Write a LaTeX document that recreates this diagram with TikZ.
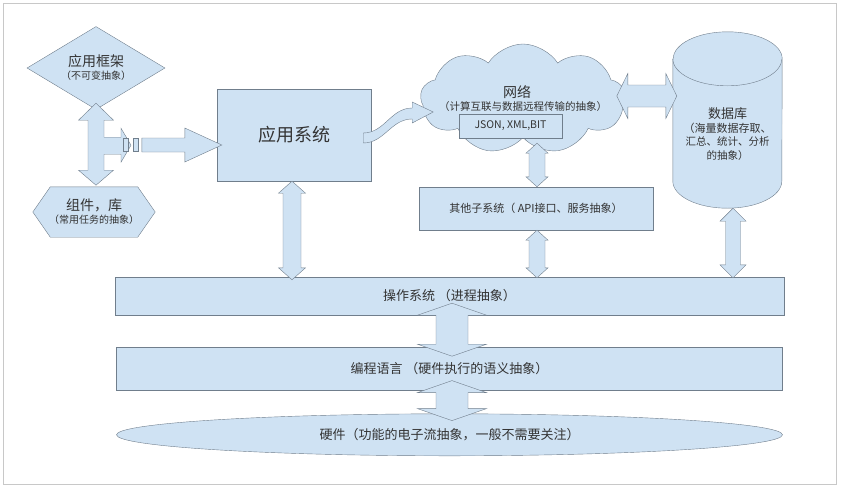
\documentclass[tikz,border=0pt]{standalone}
\usepackage{fontspec}
\setmainfont{Noto Sans CJK SC}
\usepackage{tikz}
\usetikzlibrary{positioning,calc,shapes.geometric,shapes.symbols}

\definecolor{boxblue}{RGB}{207,226,243}
\definecolor{edgegray}{RGB}{112,126,140}
\definecolor{textgray}{RGB}{51,51,51}
\definecolor{framegray}{RGB}{200,200,200}

\begin{document}
\begin{tikzpicture}[x=1pt, y=-1pt,
        every node/.style={text=textgray, inner sep=0pt},
        bluebox/.style={rectangle, draw=edgegray, fill=boxblue, thin},
        fatarrow/.style={draw=edgegray, fill=boxblue, thin},
        dblarrow/.style n args={3}{fatarrow, to path={
            (\tikztostart)
            -- ($(\tikztostart)!#1!(\tikztotarget)!#2!90:(\tikztotarget)$)
            -- ($(\tikztostart)!#1!(\tikztotarget)!#3!90:(\tikztotarget)$)
            -- ($(\tikztotarget)!#1!(\tikztostart)!#3!-90:(\tikztostart)$)
            -- ($(\tikztotarget)!#1!(\tikztostart)!#2!-90:(\tikztostart)$)
            -- (\tikztotarget)
            -- ($(\tikztotarget)!#1!(\tikztostart)!#2!90:(\tikztostart)$)
            -- ($(\tikztotarget)!#1!(\tikztostart)!#3!90:(\tikztostart)$)
            -- ($(\tikztostart)!#1!(\tikztotarget)!#3!-90:(\tikztotarget)$)
            -- ($(\tikztostart)!#1!(\tikztotarget)!#2!-90:(\tikztotarget)$)
            -- cycle}},
        bigfont/.style={font=\fontsize{18}{21}\selectfont},
        titlefont/.style={font=\fontsize{14}{17}\selectfont},
        subfont/.style={font=\fontsize{10.5}{13.5}\selectfont},
        layerfont/.style={font=\fontsize{13}{15}\selectfont}]

        \useasboundingbox (0,0) rectangle (842,488);
        \draw[framegray] (3,3) rectangle (836,484);

        % left side: framework and libraries
        \node[diamond, draw=edgegray, fill=boxblue, thin, shape aspect=1.66,
              minimum width=138pt, minimum height=83pt, align=center] (fw) at (96,68)
              {\fontsize{14}{17}\selectfont 应用框架\\[1pt]\fontsize{10}{12}\selectfont （不可变抽象）};
        \node[minimum width=122pt, minimum height=50pt] (lib) at (94,212) {};
        \draw[fatarrow] (lib.west) -- ([xshift=17.5pt]lib.north west) -- ([xshift=-17.5pt]lib.north east)
              -- (lib.east) -- ([xshift=-17.5pt]lib.south east) -- ([xshift=17.5pt]lib.south west) -- cycle;
        \node[align=center] (libtxt) at (lib)
              {\fontsize{14}{17}\selectfont 组件，库\\[1pt]\fontsize{10}{12}\selectfont （常用任务的抽象）};

        % application, network, database
        \node[bluebox, bigfont, minimum width=154pt, minimum height=92pt] (app) at (294,135) {应用系统};
        \node[cloud, draw=edgegray, fill=boxblue, thin, cloud puffs=9, cloud puff arc=115, aspect=2,
              minimum width=205pt, minimum height=110pt] (net) at (523,99) {};
        \node[titlefont] (nettitle) at (517,92) {网络};
        \node[subfont] (netsub) at (523,107) {（计算互联与数据远程传输的抽象）};
        \node[bluebox, subfont, minimum width=103pt, minimum height=24pt] (json) at (510.5,126) {JSON, XML,BIT};

        \node[minimum width=109pt, minimum height=176pt] (db) at (727.5,120) {};
        \draw[fatarrow] ([yshift=-27pt]db.north west) -- ([yshift=27pt]db.south west)
              arc[start angle=180, end angle=360, x radius=54.5pt, y radius=27pt]
              -- ([yshift=-27pt]db.north east)
              arc[start angle=0, end angle=180, x radius=54.5pt, y radius=27pt] -- cycle;
        \draw[edgegray, thin] ([yshift=-27pt]db.north west)
              arc[start angle=180, end angle=360, x radius=54.5pt, y radius=27pt];
        \node[align=center, subfont] (dbtxt) at ([yshift=-14pt]db.center)
              {\fontsize{13}{16}\selectfont 数据库\\\fontsize{11}{13.5}\selectfont （海量数据存取、\\汇总、统计、分析\\的抽象）};

        \node[bluebox, font=\fontsize{11}{13}\selectfont, minimum width=234pt, minimum height=43pt] (other) at (536,208.5)
              {其他子系统（ API接口、服务抽象）};

        % layers
        \node[bluebox, layerfont, minimum width=669pt, minimum height=38pt] (os) at (449.5,296) {操作系统 （进程抽象）};
        \node[bluebox, layerfont, minimum width=666pt, minimum height=43pt, below=32pt of os] (lang) {编程语言 （硬件执行的语义抽象）};
        \node[ellipse, draw=edgegray, fill=boxblue, thin, layerfont, minimum width=666pt, minimum height=42pt,
              below=23pt of lang] (hw) {硬件（功能的电子流抽象，一般不需要关注）};

        % arrows
        \draw[fatarrow] ([yshift=6.5pt]fw.south) -- ++(17.5,17) -- ++(-9.5,0) -- ++(0,17) -- ++(17,0)
              -- ++(0,-9) -- ++(10,17) -- ++(-10,17) -- ++(0,-8) -- ++(-17,0) -- ++(0,16) -- ++(9.5,0)
              -- ++(-17.5,15) -- ++(-17.5,-15) -- ++(9.5,0) -- ++(0,-50) -- ++(-9.5,0) -- cycle;
        \draw[fatarrow] ([shift={(-94,3)}]app.west) rectangle ++(5,13);
        \draw[fatarrow] ([shift={(-84,3)}]app.west) rectangle ++(5,13);
        \draw[fatarrow] ([shift={(5,10)}]app.west) -- ++(-37,-17) -- ++(0,10) -- ++(-43,0)
              -- ++(0,14) -- ++(43,0) -- ++(0,10) -- cycle;

        \draw[fatarrow] ([shift={(-8,8)}]app.east) -- ++(0,-10) to[out=0,in=180] ++(49,-25) -- ++(0,-6)
              -- ++(21,10) -- ++(-21,11) -- ++(0,-4) to[out=180,in=0] ++(-49,24) -- cycle;

        \draw[dblarrow={11pt}{22.5pt}{11pt}] ($(db.west |- nettitle)+(-56,4)$) to ($(db.west |- nettitle)+(4,4)$);
        \draw[dblarrow={10pt}{11pt}{8pt}] ($(other.north |- json.south)+(1,5)$) to ($(other.north)+(1,0)$);
        \draw[dblarrow={10pt}{11pt}{8pt}] ($(other.south)+(1,0)$) to ($(other.south |- os.north)+(1,1)$);
        \draw[dblarrow={12pt}{13.5pt}{9pt}] ($(app.south)+(-2,0)$) to ($(app.south |- os.north)+(-2,3)$);
        \draw[dblarrow={13pt}{13pt}{7.5pt}] ($(db.south)+(5.5,0)$) to ($(db.south |- os.north)+(5.5,1)$);
        \draw[dblarrow={12pt}{34.5pt}{16pt}] ($(os.south)+(2.5,-12)$) to ($(lang.north)+(2.5,9)$);
        \draw[dblarrow={12pt}{34.5pt}{16pt}] ($(lang.south)+(2.5,-10)$) to ($(hw.north)+(2.5,7)$);

\end{tikzpicture}
\end{document}
